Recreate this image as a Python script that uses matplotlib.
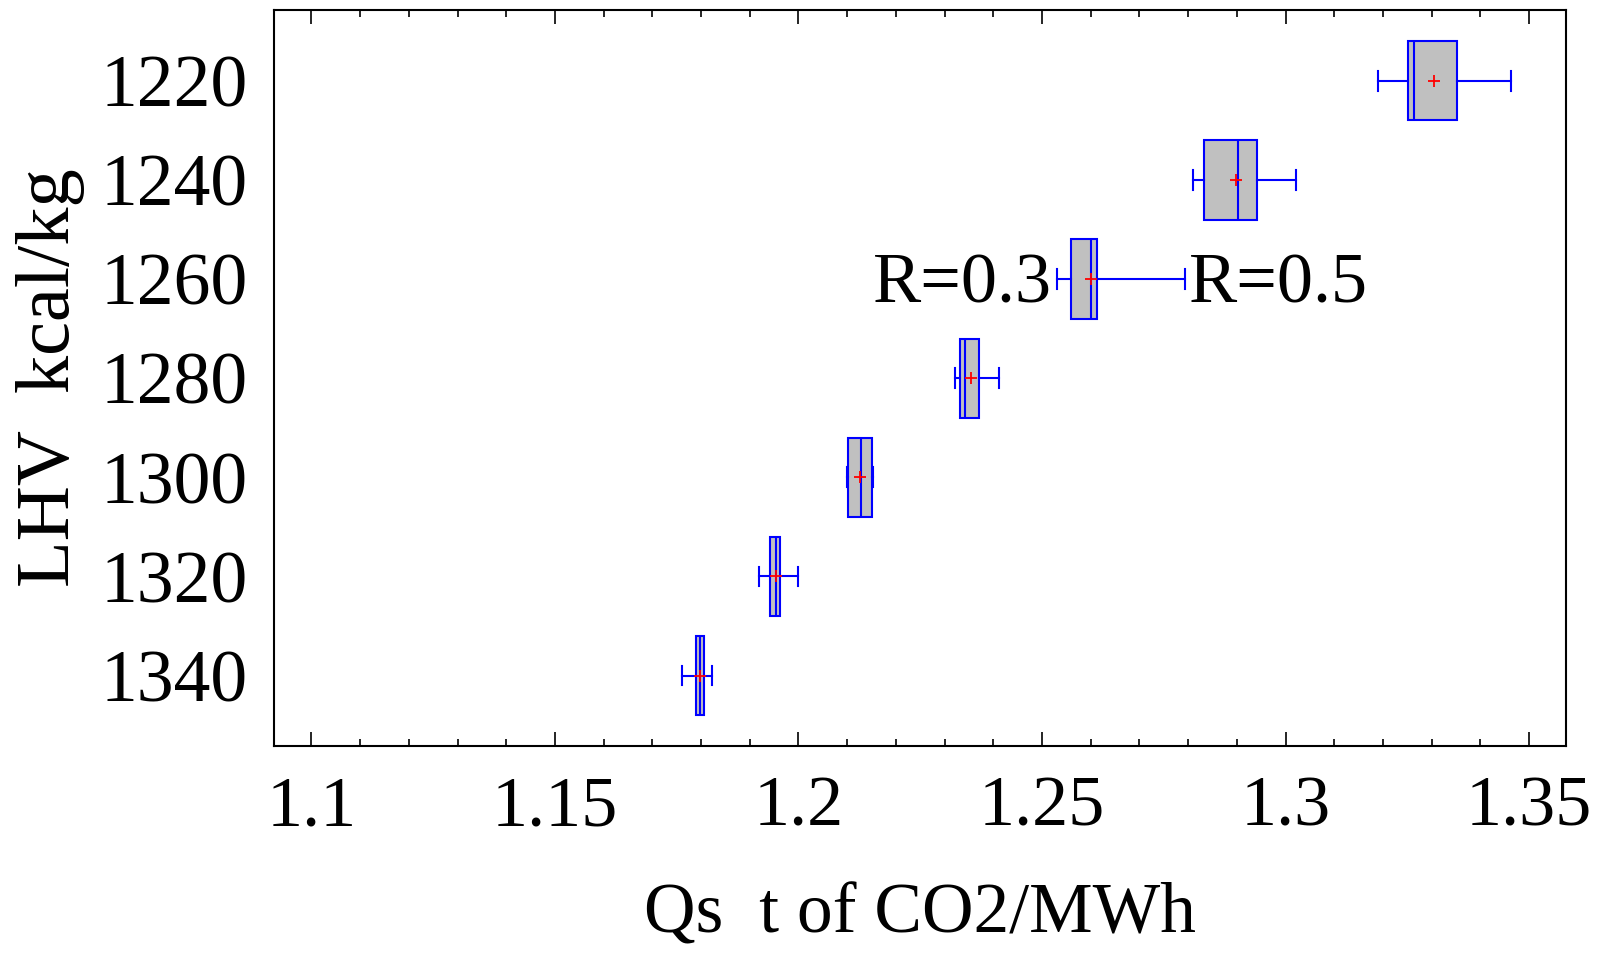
import matplotlib
matplotlib.use("Agg")
import matplotlib.pyplot as plt
from matplotlib import font_manager
from matplotlib.ticker import MultipleLocator, FuncFormatter

# pick a Times-like serif that is actually installed
names = {f.name for f in font_manager.fontManager.ttflist}
serif = [n for n in ['Liberation Serif', 'Tinos', 'Times New Roman', 'Nimbus Roman',
                     'TeX Gyre Termes', 'FreeSerif', 'STIXGeneral'] if n in names]
plt.rcParams['font.family'] = serif[:1] + ['DejaVu Serif']

# LHV categories (top to bottom) and box statistics
lhv = [1220, 1240, 1260, 1280, 1300, 1320, 1340]
whislo = [1.3190, 1.2810, 1.2531, 1.2322, 1.2100, 1.1919, 1.1761]
q1 = [1.3252, 1.2832, 1.2560, 1.2332, 1.2101, 1.1941, 1.1790]
med = [1.3263, 1.2902, 1.2601, 1.2341, 1.2129, 1.1954, 1.1798]
q3 = [1.3353, 1.2941, 1.2612, 1.2371, 1.2151, 1.1961, 1.1807]
whishi = [1.3463, 1.3021, 1.2793, 1.2412, 1.2152, 1.2000, 1.1822]
means = [1.3304, 1.2899, 1.2601, 1.2355, 1.2127, 1.1953, 1.1797]

notes = ['R=0.3', 'R=0.5']
note_x = [1.2152, 1.2802]
note_y = [3.24, 3.24]

stats = []
for i in range(len(lhv)):
    stats.append(dict(label=str(lhv[i]), whislo=whislo[i], q1=q1[i], med=med[i],
                      q3=q3[i], whishi=whishi[i], mean=means[i], fliers=[]))

fig = plt.figure(figsize=(16.01, 9.56), dpi=100)
ax = fig.add_axes([0.1711, 0.2197, 0.8068, 0.7699])

positions = list(range(1, len(lhv) + 1))
ax.bxp(stats, positions=positions, widths=0.8, orientation='horizontal',
       patch_artist=True, showmeans=True, showfliers=False, capwidths=0.2,
       boxprops=dict(facecolor='#c0c0c0', edgecolor='blue', linewidth=1.5),
       medianprops=dict(color='blue', linewidth=1.5),
       whiskerprops=dict(color='blue', linewidth=1.5),
       capprops=dict(color='blue', linewidth=1.5),
       meanprops=dict(marker='+', markeredgecolor='red', markersize=8,
                      markeredgewidth=1.3))

ax.set_xlim(1.0923, 1.3575)
ax.set_ylim(7.71, 0.285)

ax.xaxis.set_major_locator(MultipleLocator(0.05))
ax.xaxis.set_minor_locator(MultipleLocator(0.01))
ax.xaxis.set_major_formatter(FuncFormatter(lambda v, p: f'{v:g}'))

ax.tick_params(axis='x', which='both', direction='in', top=True, labelsize=52, pad=21)
ax.tick_params(axis='x', which='major', length=10, width=1.2)
ax.tick_params(axis='x', which='minor', length=5, width=1.2)
ax.tick_params(axis='y', length=0, pad=19, labelsize=53)

for s in ax.spines.values():
    s.set_linewidth(1.5)

ax.set_xlabel('Qs  t of CO2/MWh', fontsize=51.5)
ax.set_ylabel('LHV  kcal/kg', fontsize=55)
ax.xaxis.set_label_coords(0.5, -0.186)
ax.yaxis.set_label_coords(-0.146, 0.5)

for t, x, y in zip(notes, note_x, note_y):
    ax.text(x, y, t, fontsize=52, ha='left', va='baseline')

fig.savefig('out.png', dpi=100)
